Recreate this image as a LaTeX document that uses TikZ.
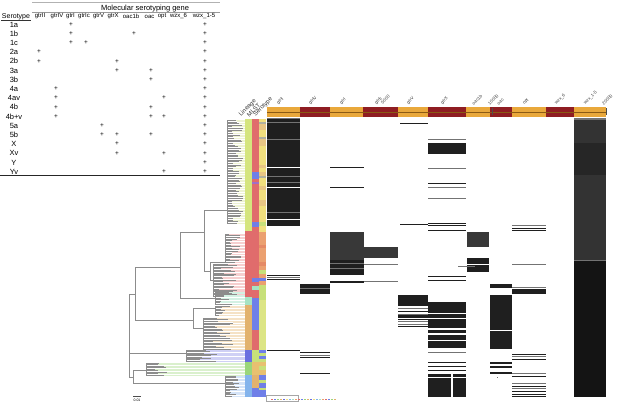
\documentclass[tikz,border=0pt]{standalone}
\usepackage{fontspec}
\setmainfont{Liberation Sans}
\definecolor{barorg}{HTML}{E9A83B}
\definecolor{barred}{HTML}{8F1D22}
\definecolor{barln}{HTML}{8A5A14}
\definecolor{cyg}{HTML}{D5E57E}
\definecolor{cred}{HTML}{E06C6C}
\definecolor{cmint}{HTML}{A6E3C4}
\definecolor{ctan}{HTML}{E2B26E}
\definecolor{cpur}{HTML}{6A6FE0}
\definecolor{cgrn}{HTML}{9AD67A}
\definecolor{clb}{HTML}{84B4EC}
\definecolor{cblu}{HTML}{6F7FE8}
\definecolor{cyel}{HTML}{F1DF7E}
\definecolor{cbeige}{HTML}{E8C584}
\definecolor{cgry}{HTML}{B0B0A0}
\definecolor{clg}{HTML}{C7E07A}
\definecolor{csal}{HTML}{EBA070}
\definecolor{csal2}{HTML}{E58A66}
\definecolor{cyg2}{HTML}{DCE585}
\definecolor{cgold}{HTML}{E8C070}
\definecolor{cviol}{HTML}{A070C8}
\definecolor{tyg}{HTML}{EEF3D2}
\definecolor{tred}{HTML}{F6CFCF}
\definecolor{tmint}{HTML}{D3F1E3}
\definecolor{ttan}{HTML}{F5E2C6}
\definecolor{tpur}{HTML}{CFD0F5}
\definecolor{tgrn}{HTML}{DAF0CD}
\definecolor{tlb}{HTML}{D5E4F8}
\definecolor{treeg}{HTML}{8C8C8C}
\newcommand\leafclade[7]{%
  \draw[tree] (#4,#1)--(#4,#2);
  \foreach \k in {0,...,#3}{%
    \pgfmathsetmacro\yy{#1+(#2-#1)*\k/#3}%
    \pgfmathsetmacro\tipx{#5+rnd*(#6-#5)}%
    \draw[#7, line width=0.35pt] (\tipx,\yy)--(245,\yy);
    \draw[tree, line width=0.3pt] (#4,\yy)--(\tipx,\yy);
  }}
\begin{document}
\begin{tikzpicture}[x=1pt,y=-1pt,
  font=\fontsize{7.5}{8}\selectfont,
  tbl/.style={inner sep=0pt},
  hdr/.style={inner sep=0pt,font=\fontsize{6}{6.5}\selectfont},
  plus/.style={inner sep=0pt,font=\fontsize{6.5}{7}\selectfont},
  glab/.style={font=\fontsize{4.5}{5}\selectfont,rotate=45,anchor=south west,inner sep=0.3pt,text=black!75},
  mlab/.style={font=\fontsize{6}{6}\selectfont,rotate=45,anchor=south west,inner sep=0.3pt,text=black!80},
  tree/.style={draw=treeg,line width=0.45pt},
  hm/.style={fill=black!88},
  hmg/.style={fill=black!55},
  hmd/.style={fill=black!78},
  hmw/.style={fill=white}]
\useasboundingbox (0,0) rectangle (617,404);
\pgfmathsetseed{12}
% ---------------- table ----------------
\draw[gray!60,line width=1.6pt] (32,2.5)--(220,2.5);
\node[tbl] (title) at (145,8.3) {Molecular serotyping gene};
\draw[gray!80,line width=0.4pt] (32,12.6)--(220,12.6);
\node[tbl,font=\fontsize{7}{7.5}\selectfont] (hser) at (16,16.5) {Serotype};
\draw[black!80,line width=0.4pt] (1,20)--(31,20);
\foreach \g/\x [count=\i] in {gtrII/40,gtrIV/57,gtrI/70.5,gtrIc/84,gtrV/98.5,gtrX/113,oac1b/131,oac/149.5,opt/162,wzx\_6/178.5,wzx\_1-5/204}
  \node[hdr] (hg\i) at (\x,16.5) {\g};
\foreach \s [count=\i] in {1a,1b,1c,2a,2b,3a,3b,4a,4av,4b,4b+v,5a,5b,X,Xv,Y,Yv}
  \node[tbl] (row\i) at (14,{24.5+9.2*(\i-1)}) {\s};
\foreach \c/\r [count=\j] in {71/1,205/1, 71/2,134/2,205/2, 71/3,86/3,205/3, 39/4,205/4,
   39/5,117/5,205/5, 117/6,151/6,205/6, 151/7,205/7, 56/8,205/8, 56/9,164/9,205/9,
   56/10,151/10,205/10, 56/11,151/11,164/11,205/11, 102/12,205/12, 102/13,117/13,151/13,205/13,
   117/14,205/14, 117/15,164/15,205/15, 205/16, 164/17,205/17}
  \node[plus] (pl\j) at (\c,{24.5+9.2*(\r-1)}) {+};
\draw[black!85,line width=0.8pt] (0,175.5)--(220,175.5);
% ---------------- gene bar ----------------
\fill[barorg] (267,107) rectangle (606,117);
\foreach \a/\b in {300/330,363/398,428/466,490/512,546/574}
  \fill[barred] (\a,107) rectangle (\b,117);
\draw[barln,line width=0.6pt] (267,112)--(606,112);
\draw[black!70,line width=0.4pt] (492,108)--(492,115) (606,108)--(606,115);
\foreach \g/\x [count=\i] in {gtrII/279,gtrIV/311,gtrI/342,gtrIc/377,gtrV/409,gtrX/443,oac1b/474,oac/499,opt/525,wzx\_6/557,wzx\_1-5/586}
  \node[glab] (gl\i) at (\x,106) {\g};
\node[glab] (t5) at (383,105) {5000};
\node[glab] (t10) at (490,106) {10000};
\node[glab] (t20) at (604,106) {20000};
\node[mlab] (mlin) at (242,118) {Lineage};
\node[mlab] (mmlst) at (249.5,118) {MLST};
\node[mlab] (mser) at (256.5,118) {Serotype};
% ---------------- metadata strips ----------------
\foreach \a/\b/\c in {119/231/cyg,231/297/cred,297/305/cmint,305/350/ctan,350/362/cpur,362/375/cgrn,375/397/clb}
  \fill[\c] (245,\a) rectangle (252,\b);
\foreach \a/\b/\c in {119/172/cred,172/179/cblu,179/182/cred,182/184/cviol,184/222/cred,222/227/cblu,227/278/cred,
  278/282/cblu,282/286/cred,286/290/cmint,290/298/cred,298/305/cblu,305/330/cblu,330/350/cred,350/362/clg,
  362/375/cgold,375/388/ctan,388/397/cblu}
  \fill[\c] (252,\a) rectangle (259,\b);
\foreach \a/\b/\c in {119/122/cyel,122/124/cgry,124/130/cbeige,130/137/cyel,137/139/cgry,139/146/cbeige,146/165/cyel,
  165/168/cbeige,168/172/cyel,172/176/cbeige,176/178/cgry,178/186/cyel,186/190/cbeige,190/200/cyel,200/206/cbeige,
  206/222/cyel,222/226/clg,226/232/cyel,232/245/csal,245/248/csal2,248/262/csal,262/266/csal2,266/270/csal,
  270/274/clg,274/278/csal,278/281/cblu,281/285/csal,285/300/clg,300/350/cyg2,350/353/cblu,353/356/clg,
  356/359/cblu,359/362/clg,362/366/cgold,366/370/clg,370/375/cgold,375/380/cblu,380/383/clg,383/388/cblu,
  388/390/clg,390/397/cblu}
  \fill[\c] (259,\a) rectangle (266,\b);
% ---------------- tree ----------------
\leafclade{120}{223}{62}{227}{232}{243}{tyg}
\leafclade{234}{262}{18}{225}{229}{242}{tred}
\leafclade{264}{296}{22}{213}{217}{238}{tred}
\leafclade{292}{304}{8}{215}{219}{232}{tmint}
\leafclade{306}{315}{6}{215}{219}{234}{ttan}
\leafclade{318}{349}{20}{203}{212}{234}{ttan}
\leafclade{350}{361}{8}{186}{198}{218}{tpur}
\leafclade{363}{375}{8}{146}{153}{168}{tgrn}
\leafclade{376}{396}{14}{225}{229}{240}{tlb}
\draw[tree] (129,294)--(129,377);
\draw[tree] (129,294)--(135,294) (135,267)--(135,320);
\draw[tree] (135,267)--(180,267) (180,232)--(180,298);
\draw[tree] (180,232)--(204,232) (204,210)--(204,271);
\draw[tree] (204,210)--(227,210) (204,271)--(210,271) (210,262)--(210,280);
\draw[tree] (210,262)--(225,262) (210,280)--(213,280);
\draw[tree] (180,298)--(215,298);
\draw[tree] (135,320)--(193,320) (193,308)--(193,328);
\draw[tree] (193,308)--(215,308) (193,328)--(203,328);
\draw[tree] (129,353)--(186,353);
\draw[tree] (129,377)--(133,377) (133,370)--(133,383);
\draw[tree] (133,370)--(146,370) (133,383)--(225,383);
\draw[black!70,line width=0.4pt] (133,396)--(141,396);
\node[font=\fontsize{3.5}{4}\selectfont,inner sep=0pt] (scale) at (137,400.5) {0.01};
% ---------------- heatmap ----------------
% gtrII
\fill[hm] (267,118) rectangle (300,226);
\foreach \y/\s in {118/hmg,122/hmg,139/hmg,167/hmw,176/hmg,182/hmg,187/hmw,212/hmg,219/hmw}
  \fill[\s] (267,\y) rectangle (300,\y+1.2);
\fill[hm] (267,275) rectangle (300,276.3);
\fill[hmg] (267,277.3) rectangle (300,278.3);
\fill[hm] (267,279.2) rectangle (300,280.4);
\fill[hm] (267,349.5) rectangle (300,351.3);
% gtrIV
\fill[hm] (300,284) rectangle (330,294);
\fill[hmg] (300,288) rectangle (330,288.8);
\fill[hm] (300,352) rectangle (330,353.2);
\fill[hmg] (300,354.5) rectangle (330,355.5);
\fill[hm] (300,356.5) rectangle (330,357.7);
\fill[hm] (300,372.5) rectangle (330,374);
% gtrI
\fill[hm] (330,166.5) rectangle (364,167.7);
\fill[hm] (330,186.5) rectangle (364,187.7);
\fill[hmd] (330,232) rectangle (364,260);
\fill[hm] (330,260) rectangle (364,275);
\fill[hmg] (330,263) rectangle (364,263.8);
\fill[hmg] (330,268) rectangle (364,268.8);
\fill[hm] (330,281) rectangle (364,283);
% gtrIc
\fill[hmd] (364,247) rectangle (398,258);
\fill[hmg] (364,264) rectangle (398,265.2);
\fill[hmg] (364,280.5) rectangle (398,281.7);
% gtrV
\fill[hm] (400,122.5) rectangle (428,123.7);
\fill[hm] (400,223.5) rectangle (428,224.7);
\fill[hm] (398,295) rectangle (428,306);
\foreach \y/\s in {308/hmg,311/hm,313.5/hmg,318.5/hm,321/hmg,323.5/hmg,325.5/hm}
  \fill[\s] (398,\y) rectangle (428,\y+1.3);
\fill[hm] (398,314.8) rectangle (428,317.6);
% gtrX
\fill[hmg] (428,139) rectangle (466,140.2);
\fill[hm] (428,142.5) rectangle (466,154);
\foreach \y/\s in {167.5/hmg,182.5/hm,186.5/hmg,197.5/hmg,222.5/hm,225/hm,229.5/hm,275.5/hm,279.5/hm,351.5/hmg,361.5/hm,365.5/hm,369.5/hm}
  \fill[\s] (428,\y) rectangle (466,\y+1.3);
\fill[hm] (428,302) rectangle (466,328);
\fill[hmw] (428,313) rectangle (466,313.8);
\fill[hmw] (428,318) rectangle (466,318.6);
\fill[hm] (428,330) rectangle (466,333);
\fill[hm] (428,335) rectangle (466,348);
\fill[hmw] (428,340) rectangle (466,340.8);
\fill[hm] (428,374) rectangle (451,397);
\fill[hm] (452.5,374) rectangle (466,397);
\fill[hmw] (428,377) rectangle (466,377.7);
% oac1b
\fill[hmd] (467,232) rectangle (489,247);
\fill[hm] (467,258) rectangle (489,272);
\fill[hmw] (467,264) rectangle (489,265.2);
\fill[hmg] (458,266) rectangle (475,267);
% oac
\fill[hm] (490,284) rectangle (512,287.5);
\fill[hm] (490,295) rectangle (512,349);
\fill[hmw] (490,330) rectangle (512,330.7);
\fill[hm] (490,362) rectangle (512,364);
\fill[hm] (490,366) rectangle (512,368.3);
\fill[hm] (490,371.5) rectangle (512,374);
\fill[hmg] (496.5,376.5) rectangle (497.8,377.6);
% opt
\foreach \y/\s in {225/hmg,227.5/hm,229.5/hm,264/hmg,287/hmg,354/hm,356/hmg,359/hm,373/hmg,376/hm,383/hmg,385.5/hm,388/hmg,391/hm,393.5/hm,395.8/hm}
  \fill[\s] (512,\y) rectangle (546,\y+1.3);
\fill[hm] (512,289) rectangle (546,294);
% wzx_1-5
\fill[hmg] (574,118) rectangle (606,119.5);
\fill[black!80] (574,119.5) rectangle (606,260);
\fill[black!85] (574,143) rectangle (606,175);
\fill[hmg] (574,259.5) rectangle (606,260.5);
\fill[black!92] (574,260.5) rectangle (606,397);
% ---------------- bottom legend ----------------
\draw[gray!70,line width=0.3pt] (266,395) rectangle (298,401);
\foreach \c [count=\i] in {cred,cblu,cgrn,ctan,cpur,cyel,clb,cmint,csal,cred,cblu,cgrn,ctan,cpur,cyel,clb,cmint,csal,cred,cblu,cgrn,ctan}
  \fill[\c] ({268+3*\i},398.6) rectangle ({270+3*\i},399.6);
\end{tikzpicture}
\end{document}
